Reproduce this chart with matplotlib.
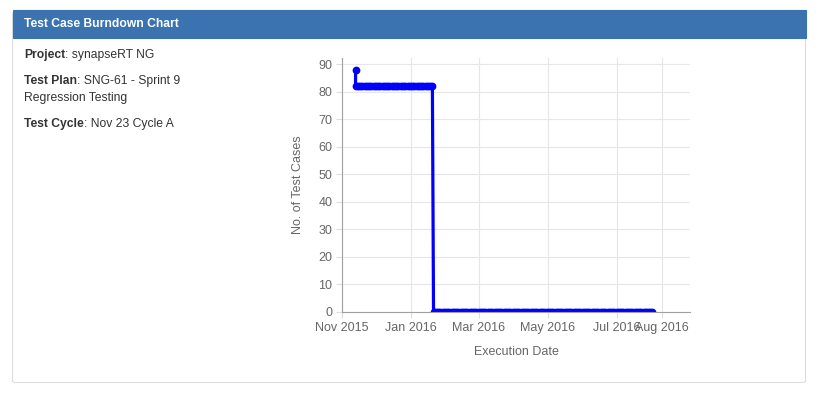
import pandas as pd
import matplotlib
matplotlib.use('Agg')
import matplotlib.pyplot as plt
from matplotlib.patches import Rectangle, FancyBboxPatch
from matplotlib.text import Annotation

plt.rcParams['font.family'] = ['Liberation Sans', 'DejaVu Sans']

# burndown data: execution dates and remaining test cases
start_dates = ['2015-11-13']
start_remaining = [88]

plateau_dates = [
    '2015-11-13', '2015-11-15', '2015-11-17', '2015-11-19', '2015-11-21',
    '2015-11-23', '2015-11-25', '2015-11-27', '2015-11-29', '2015-12-01',
    '2015-12-03', '2015-12-05', '2015-12-07', '2015-12-09', '2015-12-11',
    '2015-12-13', '2015-12-15', '2015-12-17', '2015-12-19', '2015-12-21',
    '2015-12-23', '2015-12-25', '2015-12-27', '2015-12-29', '2015-12-31',
    '2016-01-02', '2016-01-04', '2016-01-06', '2016-01-08', '2016-01-10',
    '2016-01-12', '2016-01-14', '2016-01-16', '2016-01-18', '2016-01-20',
]
plateau_remaining = [82] * len(plateau_dates)

done_dates = [
    '2016-01-21', '2016-01-23', '2016-01-25', '2016-01-27', '2016-01-29',
    '2016-01-31', '2016-02-02', '2016-02-04', '2016-02-06', '2016-02-08',
    '2016-02-10', '2016-02-12', '2016-02-14', '2016-02-16', '2016-02-18',
    '2016-02-20', '2016-02-22', '2016-02-24', '2016-02-26', '2016-02-28',
    '2016-03-01', '2016-03-03', '2016-03-05', '2016-03-07', '2016-03-09',
    '2016-03-11', '2016-03-13', '2016-03-15', '2016-03-17', '2016-03-19',
    '2016-03-21', '2016-03-23', '2016-03-25', '2016-03-27', '2016-03-29',
    '2016-03-31', '2016-04-02', '2016-04-04', '2016-04-06', '2016-04-08',
    '2016-04-10', '2016-04-12', '2016-04-14', '2016-04-16', '2016-04-18',
    '2016-04-20', '2016-04-22', '2016-04-24', '2016-04-26', '2016-04-28',
    '2016-04-30', '2016-05-02', '2016-05-04', '2016-05-06', '2016-05-08',
    '2016-05-10', '2016-05-12', '2016-05-14', '2016-05-16', '2016-05-18',
    '2016-05-20', '2016-05-22', '2016-05-24', '2016-05-26', '2016-05-28',
    '2016-05-30', '2016-06-01', '2016-06-03', '2016-06-05', '2016-06-07',
    '2016-06-09', '2016-06-11', '2016-06-13', '2016-06-15', '2016-06-17',
    '2016-06-19', '2016-06-21', '2016-06-23', '2016-06-25', '2016-06-27',
    '2016-06-29', '2016-07-01', '2016-07-03', '2016-07-05', '2016-07-07',
    '2016-07-09', '2016-07-11', '2016-07-13', '2016-07-15', '2016-07-17',
    '2016-07-19', '2016-07-21', '2016-07-23', '2016-07-25', '2016-07-27',
    '2016-07-29', '2016-07-31', '2016-08-01',
]
done_remaining = [0] * len(done_dates)

x_tick_dates = ['2015-11-01', '2016-01-01', '2016-03-01', '2016-05-01', '2016-07-01', '2016-08-10']
x_tick_labels = ['Nov 2015', 'Jan 2016', 'Mar 2016', 'May 2016', 'Jul 2016', 'Aug 2016']
y_ticks = [0, 10, 20, 30, 40, 50, 60, 70, 80, 90]

info_lines = [
    ('Project', ': synapseRT NG'),
    ('Test Plan', ': SNG-61 - Sprint 9'),
    (None, 'Regression Testing'),
    ('Test Cycle', ': Nov 23 Cycle A'),
]

W, H = 816, 393
fig = plt.figure(figsize=(W / 100, H / 100), dpi=100)


def fx(px):
    return px / W


def fy(py):
    return 1 - py / H


# panel frame and header (behind the axes)
panel = FancyBboxPatch((fx(12.5), fy(382.5)), fx(793), 370 / H,
                       boxstyle='round,pad=0,rounding_size=0.004',
                       transform=fig.transFigure, facecolor='white',
                       edgecolor='#dddddd', linewidth=0.8, zorder=-2)
fig.patches.append(panel)
header = Rectangle((fx(12.5), fy(37.5)), fx(793), 28 / H, transform=fig.transFigure,
                   facecolor='#3a73b0', edgecolor='#3a73b0', linewidth=0.8, zorder=-1)
fig.patches.append(header)
fig.text(fx(24), fy(24), 'Test Case Burndown Chart', color='white',
         fontsize=8.7, fontweight='bold', va='center', ha='left')

# info text on the left: bold label followed by plain value
line_y = [55, 81, 98, 124]
for (bold, rest), yy in zip(info_lines, line_y):
    if bold:
        t = fig.text(fx(24), fy(yy), bold, color='#333333', fontsize=8.7,
                     fontweight='bold', va='center', ha='left')
        ann = Annotation(rest, xy=(1, 0.5), xycoords=t, va='center', ha='left',
                         color='#333333', fontsize=8.7, annotation_clip=False)
        fig.add_artist(ann)
    else:
        fig.text(fx(24), fy(yy), rest, color='#333333', fontsize=8.7,
                 va='center', ha='left')

# chart
ax = fig.add_axes([fx(342), fy(312), fx(690 - 342), (312 - 58) / H])
dates = pd.to_datetime(start_dates + plateau_dates + done_dates)
values = start_remaining + plateau_remaining + done_remaining
ax.plot(dates, values, color='#0000ff', linewidth=2.3, marker='o',
        markersize=5.6, markeredgewidth=0, solid_joinstyle='round')

ax.set_xlim(pd.Timestamp('2015-11-01'), pd.Timestamp('2016-09-04'))
ax.set_ylim(0, 92.2)
ax.set_xticks(pd.to_datetime(x_tick_dates))
ax.set_xticklabels(x_tick_labels)
ax.set_yticks(y_ticks)
ax.grid(True, color='#e6e6e6', linewidth=0.8)
ax.set_axisbelow(True)
for side in ['top', 'right']:
    ax.spines[side].set_visible(False)
for side in ['left', 'bottom']:
    ax.spines[side].set_color('#a0a0a0')
    ax.spines[side].set_linewidth(0.8)
ax.tick_params(axis='both', length=4, width=0.8, color='#dddddd',
               labelcolor='#666666', labelsize=9, pad=3)
ax.set_xlabel('Execution Date', color='#666666', fontsize=9, labelpad=9)
ax.set_ylabel('No. of Test Cases', color='#666666', fontsize=9, labelpad=10)

fig.savefig('out.png', dpi=100)
